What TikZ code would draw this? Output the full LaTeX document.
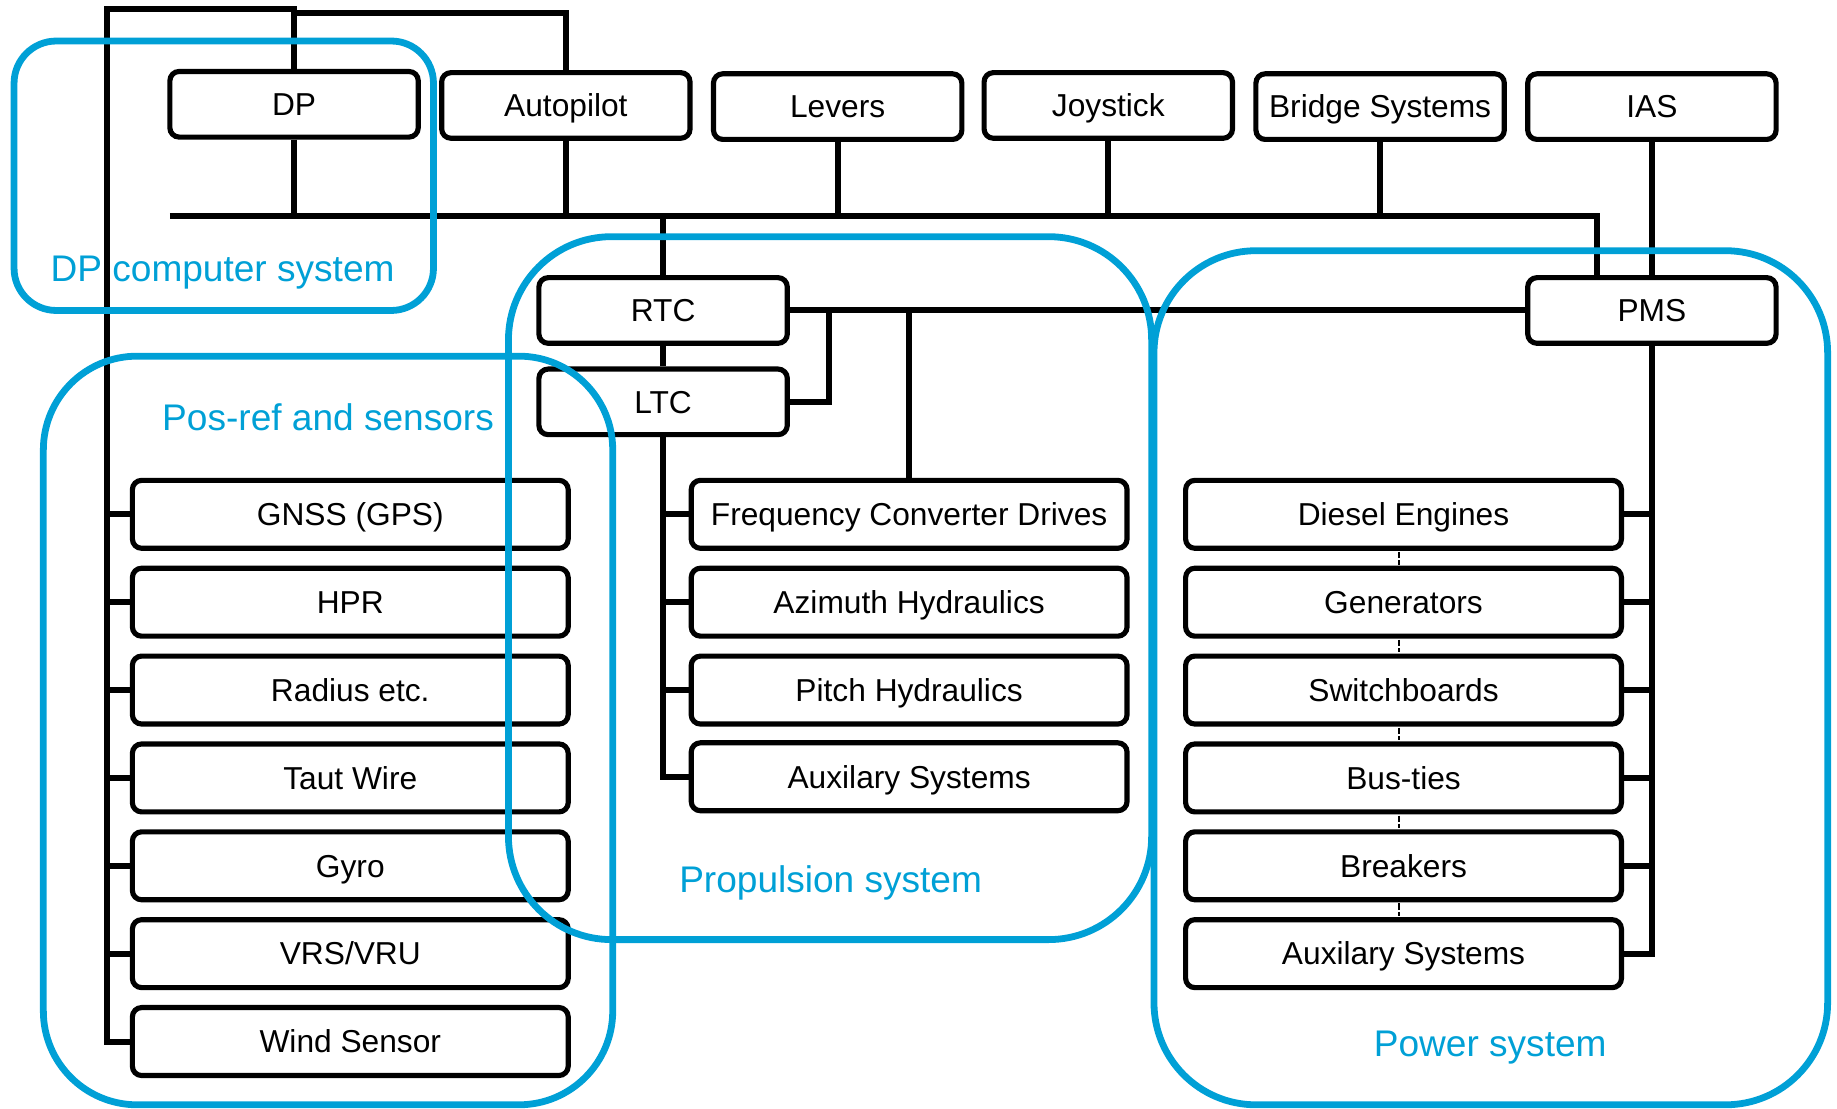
\documentclass[tikz,border=0pt]{standalone}
\usepackage{fontspec}
\setmainfont{Liberation Sans}
\definecolor{grpblue}{RGB}{0,160,214}
\tikzset{
  box/.style={draw, line width=2.5pt, rounded corners=4.5pt, fill=white, inner sep=0pt,
    text height=11pt, text depth=0pt, font=\fontsize{15.4}{18}\selectfont},
  topbox/.style={box, minimum width=4.24cm, minimum height=1.12cm},
  sidebox/.style={box, minimum width=7.44cm, minimum height=1.16cm},
  bus/.style={line width=2.9pt},
  tie/.style={line width=1.1pt, dash pattern=on 3.2pt off 0.9pt, shorten <=0.5pt, shorten >=0.5pt},
  grp/.style={draw=grpblue, line width=3.3pt},
  grplabel/.style={text=grpblue, inner sep=0pt, text height=13pt, text depth=0pt,
    font=\fontsize{18}{21}\selectfont}
}

\begin{document}
\begin{tikzpicture}[x=0.2mm, y=-0.2mm]
				\useasboundingbox (0, 0) rectangle (1568, 946);
				
				% top row
				\node[topbox] (dp) at (251, 89) {DP};
				\node[topbox] (autopilot) at (483, 90) {Autopilot};
				\node[topbox] (levers) at (715, 91) {Levers};
				\node[topbox] (joystick) at (946, 90) {Joystick};
				\node[topbox] (bridge) at (1178, 91) {Bridge Systems};
				\node[topbox] (ias) at (1410, 91) {IAS};
				
				% thruster control and power management
				\node[topbox] (rtc) at (566, 265) {RTC};
				\node[topbox] (ltc) at (566, 343) {LTC};
				\node[topbox] (pms) at (1410, 265) {PMS};
				
				% pos-ref and sensors
				\node[sidebox] (gnss) at (299, 439) {GNSS (GPS)};
				\node[sidebox] (hpr) at (299, 514) {HPR};
				\node[sidebox] (radius) at (299, 589) {Radius etc.};
				\node[sidebox] (tautwire) at (299, 664) {Taut Wire};
				\node[sidebox] (gyro) at (299, 739) {Gyro};
				\node[sidebox] (vrs) at (299, 814) {VRS/VRU};
				\node[sidebox] (wind) at (299, 889) {Wind Sensor};
				
				% propulsion
				\node[sidebox] (fcd) at (776, 439) {Frequency Converter Drives};
				\node[sidebox] (azimuth) at (776, 514) {Azimuth Hydraulics};
				\node[sidebox] (pitch) at (776, 589) {Pitch Hydraulics};
				\node[sidebox] (propaux) at (776, 663) {Auxilary Systems};
				
				% power
				\node[sidebox] (diesel) at (1198, 439) {Diesel Engines};
				\node[sidebox] (gen) at (1198, 514) {Generators};
				\node[sidebox] (swbd) at (1198, 589) {Switchboards};
				\node[sidebox] (busties) at (1198, 664) {Bus-ties};
				\node[sidebox] (breakers) at (1198, 739) {Breakers};
				\node[sidebox] (poweraux) at (1198, 814) {Auxilary Systems};
				
				\coordinate (corner) at (91, 8);
				\coordinate (dptop) at (251, 11);
				\coordinate (busL) at (145, 184);
				\coordinate (busR) at (1363, 184);
				\coordinate (split) at (708, 265);
				
				% sensor line
				\draw[bus] (wind.west) -| (corner) -| (dp.north);
				\draw[bus] (dptop) -| (autopilot.north);
				\draw[bus] (gnss.west) -- (gnss.west -| corner);
				\draw[bus] (hpr.west) -- (hpr.west -| corner);
				\draw[bus] (radius.west) -- (radius.west -| corner);
				\draw[bus] (tautwire.west) -- (tautwire.west -| corner);
				\draw[bus] (gyro.west) -- (gyro.west -| corner);
				\draw[bus] (vrs.west) -- (vrs.west -| corner);
				
				% main bus
				\draw[bus] (busL) -- (busR) -- (busR |- pms.north);
				\draw[bus] (dp.south) -- (dp.south |- busL);
				\draw[bus] (autopilot.south) -- (autopilot.south |- busL);
				\draw[bus] (levers.south) -- (levers.south |- busL);
				\draw[bus] (joystick.south) -- (joystick.south |- busL);
				\draw[bus] (bridge.south) -- (bridge.south |- busL);
				\draw[bus] (ias.south) -- (pms.north);
				\draw[bus] (rtc.north |- busL) -- (rtc.north);
				
				% thruster control
				\draw[bus] (rtc.south) -- (ltc.north);
				\draw[bus] (rtc.east) -- (pms.west);
				\draw[bus] (ltc.east) -| (split);
				\draw[bus] (fcd.north) -- (fcd.north |- rtc.east);
				\draw[bus] (ltc.south) |- (propaux.west);
				\draw[bus] (fcd.west) -- (fcd.west -| ltc.south);
				\draw[bus] (azimuth.west) -- (azimuth.west -| ltc.south);
				\draw[bus] (pitch.west) -- (pitch.west -| ltc.south);
				
				% power management
				\draw[bus] (pms.south) |- (poweraux.east);
				\draw[bus] (diesel.east) -- (diesel.east -| pms.south);
				\draw[bus] (gen.east) -- (gen.east -| pms.south);
				\draw[bus] (swbd.east) -- (swbd.east -| pms.south);
				\draw[bus] (busties.east) -- (busties.east -| pms.south);
				\draw[bus] (breakers.east) -- (breakers.east -| pms.south);
				\draw[tie] ([xshift=-0.08cm]diesel.south) -- ([xshift=-0.08cm]gen.north);
				\draw[tie] ([xshift=-0.08cm]gen.south) -- ([xshift=-0.08cm]swbd.north);
				\draw[tie] ([xshift=-0.08cm]swbd.south) -- ([xshift=-0.08cm]busties.north);
				\draw[tie] ([xshift=-0.08cm]busties.south) -- ([xshift=-0.08cm]breakers.north);
				\draw[tie] ([xshift=-0.08cm]breakers.south) -- ([xshift=-0.08cm]poweraux.north);
				
				% groups
				\draw[grp, rounded corners=0.72cm] (12, 35) rectangle (370, 265);
				\draw[grp, rounded corners=1.6cm] (37, 304) rectangle (523, 943);
				\draw[grp, rounded corners=1.76cm] (434, 202) rectangle (983, 802);
				\draw[grp, rounded corners=1.74cm] (985, 214) rectangle (1560, 943);
				\node[grplabel] (dplabel) at (190, 229) {DP computer system};
				\node[grplabel] (poslabel) at (280, 356) {Pos-ref and sensors};
				\node[grplabel] (proplabel) at (709, 750) {Propulsion system};
				\node[grplabel] (powerlabel) at (1272, 890) {Power system};
			\end{tikzpicture}
\end{document}
